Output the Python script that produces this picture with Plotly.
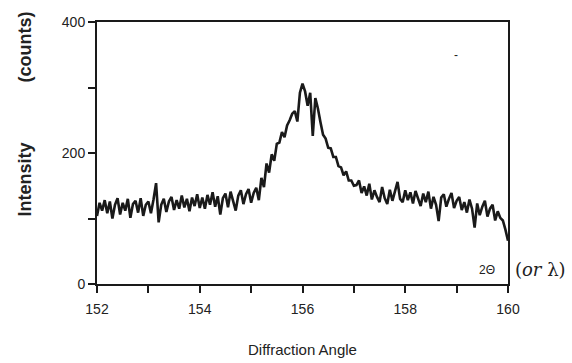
import numpy as np
import plotly.graph_objects as go

# Diffraction angle grid (2-theta, degrees), step 0.05
angle_start = 152.0
angle_step = 0.05

intensity = [
    # 152.00 - 153.00
    104, 124, 112, 128, 108, 126, 100, 121, 131, 106, 124, 112, 130, 101, 122, 127, 109, 131, 104, 121, 126,
    # 153.05 - 154.00
    108, 129, 154, 94, 121, 130, 110, 126, 133, 113, 128, 115, 135, 117, 130, 111, 132, 119, 137, 116,
    # 154.05 - 155.00
    132, 115, 136, 121, 140, 118, 134, 106, 131, 138, 117, 141, 125, 112, 135, 143, 122, 137, 145, 124,
    # 155.05 - 155.50
    139, 147, 128, 162, 148, 184, 170, 198, 188, 214,
    # 155.55 - 157.00
    216, 232, 224, 242, 250, 260, 264, 248, 292, 306, 294, 272, 292, 226, 284, 268, 247, 228, 222, 208,
    207, 194, 194, 180, 178, 166, 172, 158, 158, 150,
    # 157.05 - 158.00
    151, 158, 139, 149, 135, 153, 129, 143, 133, 125, 148, 131, 122, 144, 127, 141, 156, 130, 125, 143,
    # 158.05 - 159.00
    128, 140, 123, 142, 130, 119, 138, 125, 141, 115, 133, 121, 96, 132, 137, 118, 130, 139, 116, 127,
    # 159.05 - 160.00
    133, 113, 125, 109, 129, 115, 86, 123, 105, 118, 127, 103, 115, 121, 97, 111, 101, 97, 83, 66,
]
angles = [round(angle_start + i * angle_step, 2) for i in range(len(intensity))]

x_tickvals = [152, 153, 154, 155, 156, 157, 158, 159, 160]
x_ticktext = ["152", "", "154", "", "156", "", "158", "", "160"]
y_tickvals = [0, 100, 200, 300, 400]
y_ticktext = ["0", "", "200", "", "400"]

ink = "#1a1a1a"
fig = go.Figure()
fig.add_trace(go.Scatter(x=angles, y=intensity, mode="lines",
                         line=dict(color=ink, width=2.6), showlegend=False,
                         hoverinfo="skip"))

axis_font = dict(family="Liberation Sans, Arial, sans-serif", size=14, color="#222")
fig.update_layout(
    width=572, height=363,
    margin=dict(l=97, r=64, t=22, b=79),
    paper_bgcolor="white", plot_bgcolor="white",
    xaxis=dict(range=[152, 160], tickvals=x_tickvals, ticktext=x_ticktext,
               ticks="outside", ticklen=7, tickwidth=2, tickcolor=ink,
               ticklabelstandoff=4,
               showline=True, linecolor=ink, linewidth=2, mirror=True,
               showgrid=False, zeroline=False, tickfont=axis_font),
    yaxis=dict(range=[0, 400], tickvals=y_tickvals, ticktext=y_ticktext,
               ticks="outside", ticklen=7, tickwidth=2, tickcolor=ink,
               showline=True, linecolor=ink, linewidth=2, mirror=True,
               showgrid=False, zeroline=False, tickfont=axis_font),
    annotations=[
        dict(text="<b>Intensity            (counts)</b>", textangle=-90, xref="paper", yref="paper",
             x=-0.205, y=0.65, showarrow=False,
             font=dict(family="Liberation Sans, Arial, sans-serif", size=18, color="#222")),
        dict(text="Diffraction Angle", xref="paper", yref="paper", x=0.5, y=-0.25,
             showarrow=False, yanchor="middle",
             font=dict(family="Liberation Sans, Arial, sans-serif", size=15, color="#222")),
        dict(text="2Θ", xref="paper", yref="paper", x=0.948, y=0.055, showarrow=False,
             xanchor="center", yanchor="middle",
             font=dict(family="Liberation Sans, Arial, sans-serif", size=12, color="#222")),
        dict(text="(<i>or</i> λ)", xref="paper", yref="paper", x=1.012, y=0.055, showarrow=False,
             xanchor="left", yanchor="middle",
             font=dict(family="DejaVu Serif, serif", size=18, color="#222")),
        dict(text="-", xref="paper", yref="paper", x=0.883, y=0.907, showarrow=False,
             font=dict(family="Liberation Sans, Arial, sans-serif", size=12, color="#222")),
    ],
)

fig.write_html("out.html")
